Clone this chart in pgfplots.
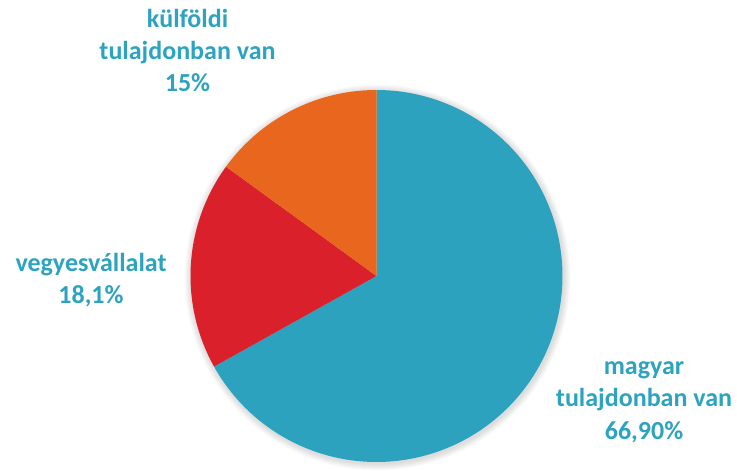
\documentclass[border=0pt]{standalone}
\usepackage{pgfplots}
\pgfplotsset{compat=1.18}
\usepackage{fontspec}
\setmainfont{Carlito}
\definecolor{pieblue}{RGB}{44,162,191}
\definecolor{pieorange}{RGB}{232,102,30}
\definecolor{piered}{RGB}{218,32,43}
\definecolor{labelblue}{RGB}{44,163,191}
% shares in percent
\def\shareHU{66.9}
\def\shareMIX{18.1}
\def\shareFOR{15}
\pgfmathsetmacro{\aA}{90}
\pgfmathsetmacro{\aB}{\aA-\shareHU*3.6}
\pgfmathsetmacro{\aC}{\aB-\shareMIX*3.6}
\pgfmathsetmacro{\aD}{\aC-\shareFOR*3.6}
\def\cx{376.5}
\def\cy{187}
\def\rr{186}
\begin{document}
\begin{tikzpicture}
\begin{axis}[
  at={(0,0)}, anchor=south west,
  scale only axis, width=737pt, height=463pt,
  xmin=0, xmax=737, ymin=0, ymax=463,
  hide axis, clip=false,
]
\addplot[draw=none, forget plot] coordinates {(0,0) (737,463)};
% soft shadow
\foreach \k in {1,2,3,4,5,6,7} {
  \addplot[draw=none, fill=black, fill opacity=0.018, domain=0:360, samples=120, forget plot]
    ({\cx+1+(\rr+\k)*cos(x)},{\cy-1.5+(\rr+\k)*sin(x)}) -- cycle;
}
\addplot[fill=pieblue, draw=none, domain=\aB:\aA, samples=200]
  ({\cx+\rr*cos(x)},{\cy+\rr*sin(x)}) -- (axis cs:\cx,\cy) -- cycle;
\addplot[fill=piered, draw=none, domain=\aC:\aB, samples=80]
  ({\cx+\rr*cos(x)},{\cy+\rr*sin(x)}) -- (axis cs:\cx,\cy) -- cycle;
\addplot[fill=pieorange, draw=none, domain=\aD:\aC, samples=80]
  ({\cx+\rr*cos(x)},{\cy+\rr*sin(x)}) -- (axis cs:\cx,\cy) -- cycle;
% labels
\begin{scope}[every node/.style={anchor=base, inner sep=0pt, text=labelblue, font=\fontsize{26}{32}\selectfont\bfseries}]
\node at (axis cs:187.5,435.5) {külföldi};
\node at (axis cs:187.5,403) {tulajdonban van};
\node at (axis cs:187.5,371) {15\%};
\node at (axis cs:91,191) {vegyesvállalat};
\node at (axis cs:91,159.5) {18,1\%};
\node at (axis cs:644,88) {magyar};
\node at (axis cs:644,56) {tulajdonban van};
\node at (axis cs:644,23) {66,90\%};
\end{scope}
\end{axis}
\end{tikzpicture}
\end{document}
